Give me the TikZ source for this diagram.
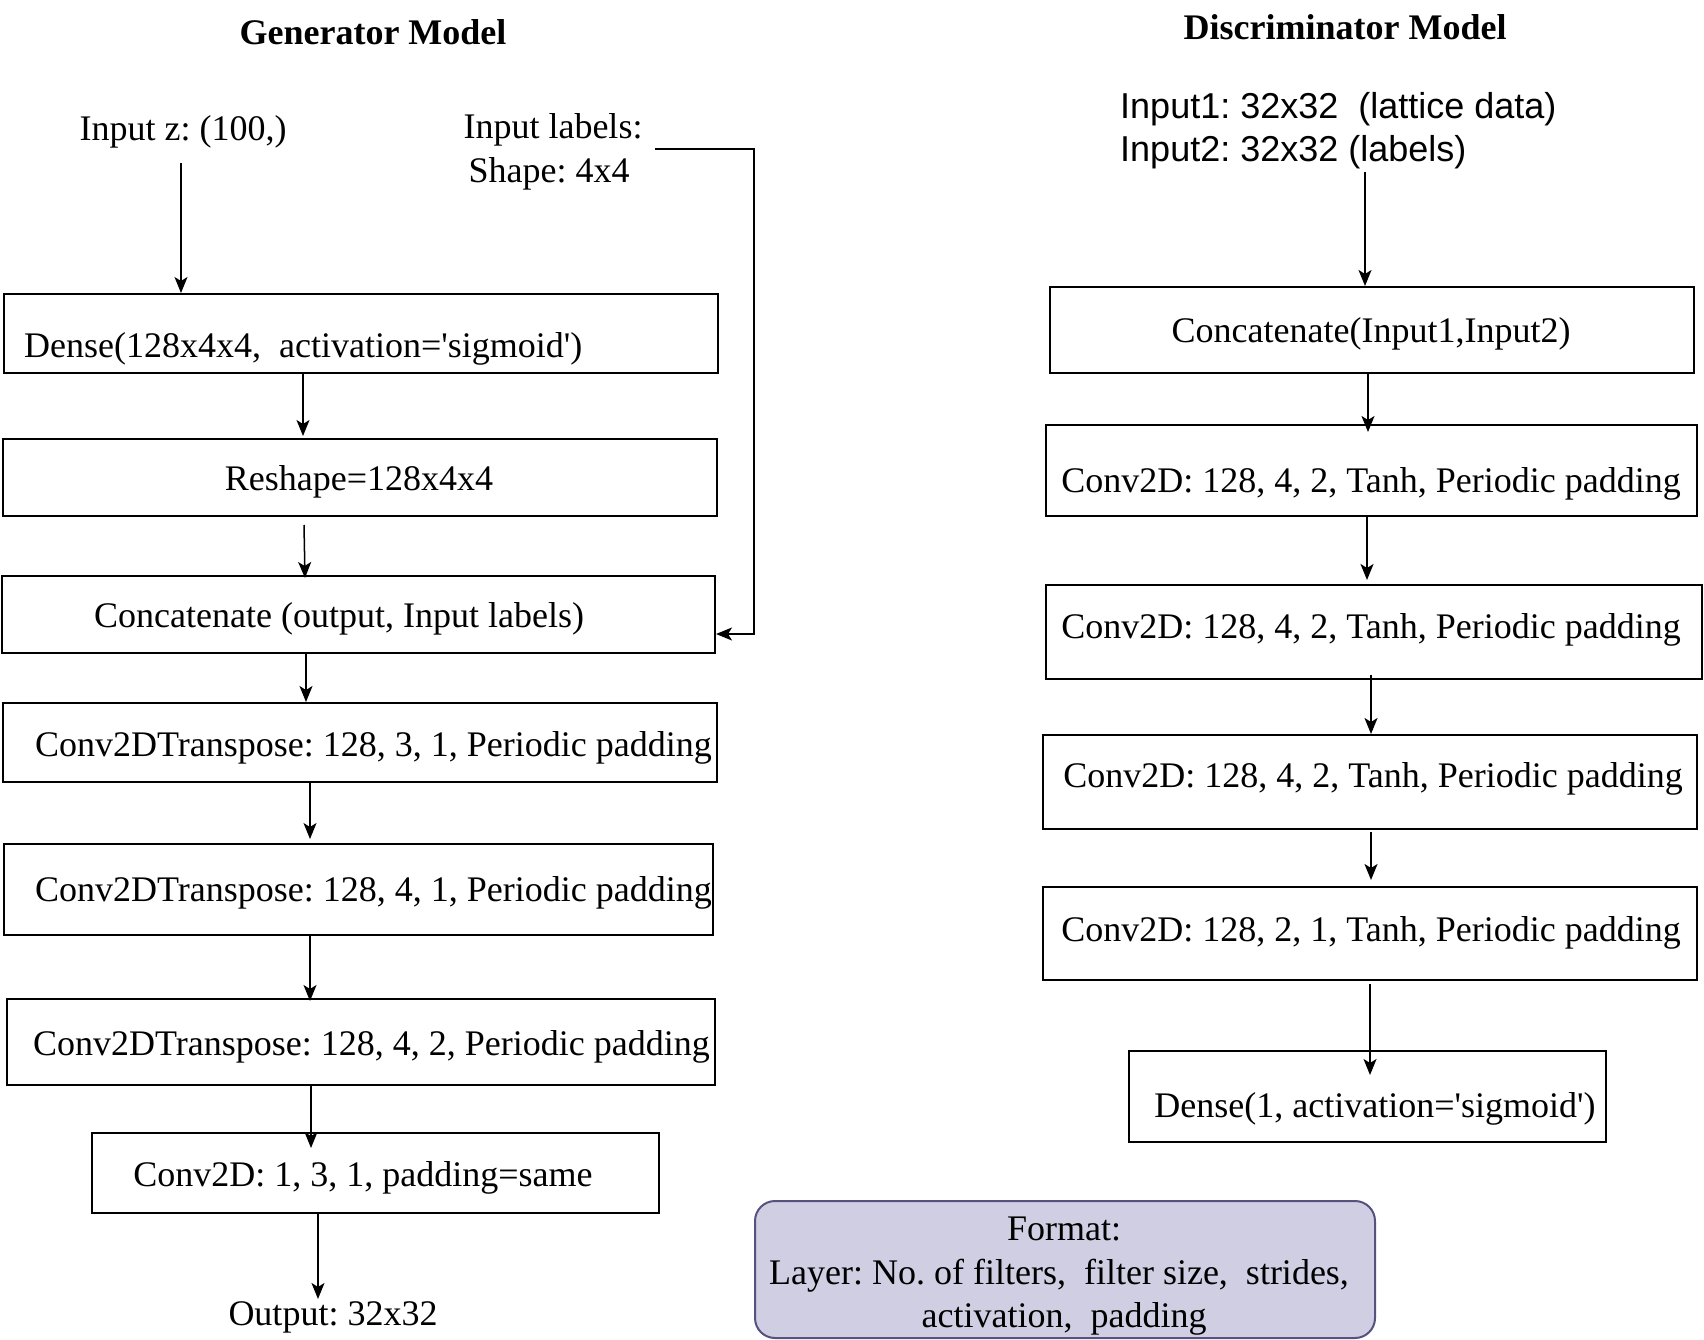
\documentclass[tikz,border=0pt]{standalone}
\usepackage{fontspec}
\setmainfont{Liberation Serif}[Ligatures=TeXOff]
\newfontfamily\sansf{Liberation Sans}[Ligatures=TeXOff]
\usetikzlibrary{arrows.meta,calc}
\frenchspacing
\definecolor{fmtfill}{HTML}{D0CEE2}
\definecolor{fmtdraw}{HTML}{56517E}
\tikzset{
  box/.style={draw, line width=2pt, rectangle, inner sep=0pt},
  txt/.style={inner sep=0pt, anchor=base, font=\fontsize{36}{43.5}\selectfont},
  ttl/.style={inner sep=0pt, anchor=base, font=\fontsize{36}{43.5}\selectfont\bfseries},
  arr/.style={-{Stealth[length=16pt,width=13pt,inset=4pt]}, line width=1.5pt},
}
\begin{document}
\begin{tikzpicture}[x=1pt,y=-1pt]
\frenchspacing
\useasboundingbox[fill=white] (0,0) rectangle (1704,1340);

% ---------- Generator ----------
\node[ttl] (gtitle) at (373,45) {Generator Model};
\node[txt] (zin) at (183,141) {Input z: (100,)};
\node[txt] (lblA) at (553,139) {Input labels:};
\node[txt] (lblB) at (549,183) {Shape: 4x4};

\node[box, minimum width=714, minimum height=79] (gdense) at (361,333.5) {};
\node[txt, anchor=base west] (gdenset) at (24,357) {Dense(128x4x4,\ \ activation='sigmoid')};

\node[box, minimum width=714, minimum height=77] (greshape) at (360,477.5) {};
\node[txt] (greshapet) at (359,490) {Reshape=128x4x4};

\node[box, minimum width=713, minimum height=77] (gconcat) at (358.5,614.5) {};
\node[txt] (gconcatt) at (339,627) {Concatenate (output, Input labels)};

\node[box, minimum width=714, minimum height=79] (gct1) at (360,742.5) {};
\node[txt, anchor=base west] (gct1t) at (35,756) {Conv2DTranspose: 128, 3, 1, Periodic padding};

\node[box, minimum width=709, minimum height=91] (gct2) at (358.5,889.5) {};
\node[txt, anchor=base west] (gct2t) at (35,901) {Conv2DTranspose: 128, 4, 1, Periodic padding};

\node[box, minimum width=708, minimum height=86] (gct3) at (361,1042) {};
\node[txt, anchor=base west] (gct3t) at (33,1055) {Conv2DTranspose: 128, 4, 2, Periodic padding};

\node[box, minimum width=567, minimum height=80] (gconv) at (375.5,1173) {};
\node[txt] (gconvt) at (363,1186) {Conv2D: 1, 3, 1, padding=same};

\node[txt] (gout) at (333,1325) {Output: 32x32};

\draw[arr] ($(zin.south -| 181,0)+(0,14)$) -- (gdense.north -| 181,0);
\draw[arr] (gdense.south -| 303,0) -- ($(greshape.north -| 303,0)+(0,-2)$);
\draw[arr] ($(greshape.south -| 304,0)+(0,8)$) -- ($(gconcat.north -| 305,0)+(0,3)$);
\draw[arr] (gconcat.south -| 306,0) -- (gct1.north -| 306,0);
\draw[arr] (gct1.south -| 310,0) -- ($(gct2.north -| 310,0)+(0,-4)$);
\draw[arr] (gct2.south -| 310,0) -- ($(gct3.north -| 310,0)+(0,3)$);
\draw[arr] (gct3.south -| 311,0) -- ($(gconv.north -| 311,0)+(0,16)$);
\draw[arr] (gconv.south -| 318,0) -- ($(gout.north -| 318,0)+(0,-2)$);
\draw[arr] ($(lblA.east |- 0,149)+(12,0)$) -- (754,149) |- (gconcat.east |- 0,634);

% ---------- Discriminator ----------
\node[ttl] (dtitle) at (1345,40) {Discriminator Model};
\node[inner sep=0pt, anchor=base west, font=\fontsize{36}{43.5}\selectfont\sansf] (din1) at (1120,119) {Input1: 32x32\ \ (lattice data)};
\node[inner sep=0pt, anchor=base west, font=\fontsize{36}{43.5}\selectfont\sansf] (din2) at (1120,162) {Input2: 32x32 (labels)};

\node[box, minimum width=644, minimum height=86] (dconcat) at (1372,330) {};
\node[txt] (dconcatt) at (1371,342) {Concatenate(Input1,Input2)};

\node[box, minimum width=651, minimum height=91] (dc1) at (1371.5,470.5) {};
\node[txt] (dc1t) at (1371,492) {Conv2D: 128, 4, 2, Tanh, Periodic padding};

\node[box, minimum width=656, minimum height=94] (dc2) at (1374,632) {};
\node[txt] (dc2t) at (1371,638) {Conv2D: 128, 4, 2, Tanh, Periodic padding};

\node[box, minimum width=654, minimum height=94] (dc3) at (1370,782) {};
\node[txt] (dc3t) at (1373,787) {Conv2D: 128, 4, 2, Tanh, Periodic padding};

\node[box, minimum width=654, minimum height=93] (dc4) at (1370,933.5) {};
\node[txt] (dc4t) at (1371,941) {Conv2D: 128, 2, 1, Tanh, Periodic padding};

\node[box, minimum width=477, minimum height=91] (ddense) at (1367.5,1096.5) {};
\node[txt] (ddenset) at (1375,1117) {Dense(1, activation='sigmoid')};

\draw[arr] ($(din2.south -| 1365,0)+(0,2)$) -- (dconcat.north -| 1365,0);
\draw[arr] (dconcat.south -| 1368,0) -- ($(dc1.north -| 1368,0)+(0,8)$);
\draw[arr] (dc1.south -| 1367,0) -- ($(dc2.north -| 1367,0)+(0,-4)$);
\draw[arr] ($(dc2.south -| 1371,0)+(0,-5)$) -- (dc3.north -| 1371,0);
\draw[arr] ($(dc3.south -| 1371,0)+(0,2)$) -- ($(dc4.north -| 1371,0)+(0,-6)$);
\draw[arr] ($(dc4.south -| 1370,0)+(0,3)$) -- ($(ddense.north -| 1370,0)+(0,25)$);

% ---------- Format legend ----------
\node[draw=fmtdraw, fill=fmtfill, line width=2pt, rounded corners=20pt,
      minimum width=620, minimum height=137, inner sep=0pt] (fmt) at (1065,1269.5) {};
\node[txt] (fmt1) at (1064,1240) {Format:};
\node[txt] (fmt2) at (1059,1284) {Layer: No. of filters,\ \ filter size,\ \ strides,};
\node[txt] (fmt3) at (1064,1327) {activation,\ \ padding};
\end{tikzpicture}
\end{document}
